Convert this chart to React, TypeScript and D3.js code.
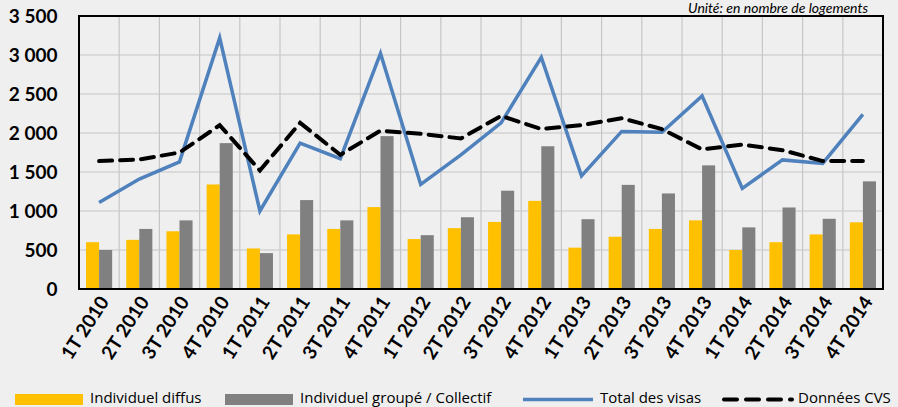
import React from "react";
import * as d3 from "d3";

const categories = ["1T 2010","2T 2010","3T 2010","4T 2010","1T 2011","2T 2011","3T 2011","4T 2011","1T 2012","2T 2012","3T 2012","4T 2012","1T 2013","2T 2013","3T 2013","4T 2013","1T 2014","2T 2014","3T 2014","4T 2014"];
const individuelDiffus = [600,630,740,1340,520,700,770,1050,640,780,860,1130,530,670,770,880,500,600,700,855];
const individuelGroupe = [500,770,880,1870,460,1140,880,1960,690,920,1260,1830,895,1335,1225,1585,790,1045,900,1380];
const totalVisas = [1110,1410,1630,3220,1000,1870,1670,3020,1340,1720,2130,2970,1450,2020,2010,2475,1290,1655,1610,2240];
const donneesCVS = [1640,1660,1750,2100,1520,2130,1720,2030,1990,1930,2220,2050,2100,2190,2050,1790,1850,1780,1640,1640];
const yTicks = [0,500,1000,1500,2000,2500,3000,3500];
const yTickLabels = ["0","500","1 000","1 500","2 000","2 500","3 000","3 500"];
const legendLabels = ["Individuel diffus","Individuel groupé / Collectif","Total des visas","Données CVS"];
const unitLabel = "Unité: en nombre de logements";

const W = 898, H = 407;
const plot = { left: 79, right: 883, top: 16, bottom: 289 };
const FONT = "Lato, 'Open Sans', sans-serif";
const LFONT = "'Open Sans', Lato, sans-serif";
const YELLOW = "#ffc000";
const GRAY = "#808080";
const BLUE = "#4f81bd";

export default function App() {
  const x = d3.scaleBand<string>().domain(categories).range([plot.left, plot.right]).paddingInner(0).paddingOuter(0);
  const y = d3.scaleLinear().domain([0, 3500]).range([plot.bottom, plot.top]);
  const bw = x.bandwidth();
  const barW = bw * 0.325;
  const cx = (c: string) => (x(c) as number) + bw / 2;
  const line = d3.line<number>().x((_, i) => cx(categories[i])).y((v) => y(v));

  return (
    <div style={{ position: "fixed", left: 0, top: 0, width: W, height: H, background: "#efefef" }}>
      <svg width={W} height={H} style={{ display: "block" }} fontFamily={FONT}>
        <rect x={0} y={0} width={W} height={H} fill="#efefef" />
        {yTicks.map((t) => (
          <line key={"h" + t} x1={plot.left} x2={plot.right} y1={y(t)} y2={y(t)} stroke="#c6c6c6" strokeWidth={1.2} />
        ))}
        {categories.map((c, i) => i > 0 ? (
          <line key={"v" + c} x1={x(c)} x2={x(c)} y1={plot.top} y2={plot.bottom} stroke="#c6c6c6" strokeWidth={1.2} />
        ) : null)}
        {categories.map((c, i) => (
          <g key={"b" + c}>
            <rect x={cx(c) - barW} y={y(individuelDiffus[i])} width={barW} height={plot.bottom - y(individuelDiffus[i])} fill={YELLOW} />
            <rect x={cx(c)} y={y(individuelGroupe[i])} width={barW} height={plot.bottom - y(individuelGroupe[i])} fill={GRAY} />
          </g>
        ))}
        <path d={line(totalVisas) || ""} fill="none" stroke={BLUE} strokeWidth={3.5} strokeLinejoin="miter" />
        <path d={line(donneesCVS) || ""} fill="none" stroke="#000" strokeWidth={4} strokeDasharray="13 8" strokeLinecap="round" />
        <rect x={plot.left} y={plot.top} width={plot.right - plot.left} height={plot.bottom - plot.top} fill="none" stroke="#000" strokeWidth={2} />
        {yTicks.map((t, i) => (
          <text key={"yl" + t} x={57.5} y={y(t)} dy="0.36em" textAnchor="end" fontWeight="bold" fontSize={19} fill="#000">{yTickLabels[i]}</text>
        ))}
        {categories.map((c) => (
          <text key={"xl" + c} transform={`translate(${cx(c) + 5},${plot.bottom + 9}) rotate(-57)`} textAnchor="end" dy="0.35em" fontWeight="bold" fontSize={19} fill="#000">{c}</text>
        ))}
        <text x={868} y={12.5} textAnchor="end" fontStyle="italic" fontSize={14} fill="#000">{unitLabel}</text>
        <g fontFamily={LFONT} fontSize={15} fill="#000">
          <rect x={15} y={394} width={68} height={11} fill={YELLOW} />
          <text x={90} y={403}>{legendLabels[0]}</text>
          <rect x={225} y={394} width={68} height={11} fill={GRAY} />
          <text x={300} y={403}>{legendLabels[1]}</text>
          <line x1={523} x2={593} y1={399.5} y2={399.5} stroke={BLUE} strokeWidth={3.5} />
          <text x={600} y={403}>{legendLabels[2]}</text>
          <line x1={724} x2={792} y1={399.5} y2={399.5} stroke="#000" strokeWidth={4} strokeDasharray="13 9" strokeLinecap="round" />
          <text x={798} y={403}>{legendLabels[3]}</text>
        </g>
      </svg>
    </div>
  );
}
